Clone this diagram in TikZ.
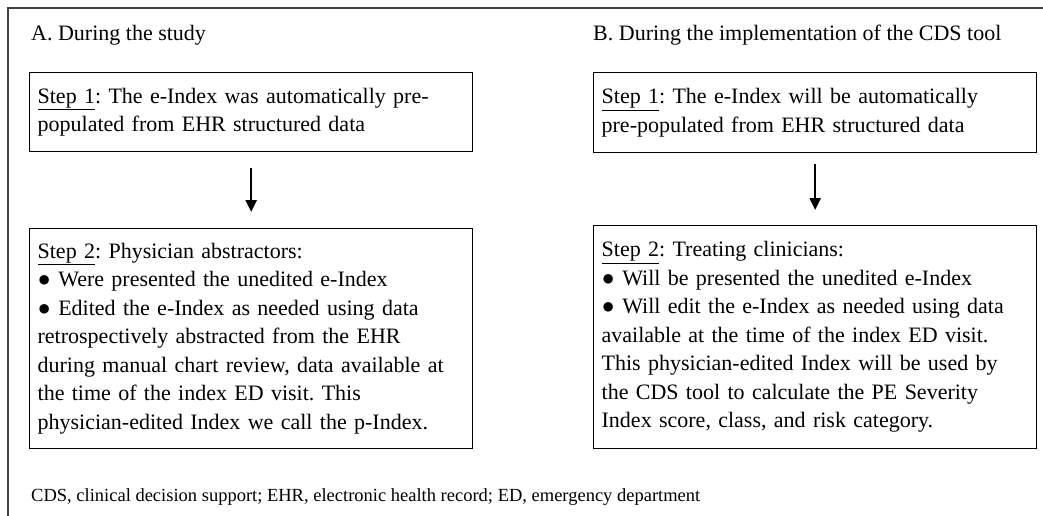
\documentclass[tikz,border=0pt]{standalone}
\usepackage{fontspec}
\setmainfont{Liberation Serif}
\usetikzlibrary{arrows.meta}
\begin{document}
\frenchspacing
\begin{tikzpicture}[x=1pt,y=-1pt,
    stepbox/.style={draw,line width=1.3pt,anchor=north west,align=left,
      text width=427pt,inner xsep=8pt,inner ysep=0pt,
      font=\fontsize{22}{28.5}\selectfont},
    caption/.style={anchor=west,inner sep=0pt,font=\fontsize{22}{27}\selectfont},
    flow/.style={-{Triangle[width=11pt,length=12pt]},line width=2.6pt}]
  \useasboundingbox (0,0) rectangle (1043,516);
  \draw[line width=1.3pt,draw=black!75] (1043,8) -- (8,8) -- (8,516);
  % A: during the study
  \node[caption] (atitle) at (31,35) {A. During the study};
  \node[stepbox,minimum height=79pt] (a1) at (29,72)
    {\underline{Step 1}: The e-Index was automatically pre-\\
     populated from EHR structured data};
  \node[stepbox,minimum height=220pt] (a2) at (29,228)
    {\underline{Step 2}: Physician abstractors:\\
     ● Were presented the unedited e-Index\\
     ● Edited the e-Index as needed using data\\
     retrospectively abstracted from the EHR\\
     during manual chart review, data available at\\
     the time of the index ED visit. This\\
     physician-edited Index we call the p-Index.};
  % B: during the implementation
  \node[caption] (btitle) at (593,35) {B. During the implementation of the CDS tool};
  \node[stepbox,minimum height=80pt] (b1) at (593,72)
    {\underline{Step 1}: The e-Index will be automatically\\
     pre-populated from EHR structured data};
  \node[stepbox,minimum height=223pt] (b2) at (593,225)
    {\underline{Step 2}: Treating clinicians:\\
     ● Will be presented the unedited e-Index\\
     ● Will edit the e-Index as needed using data\\
     available at the time of the index ED visit.\\
     This physician-edited Index will be used by\\
     the CDS tool to calculate the PE Severity\\
     Index score, class, and risk category.};
  \draw[flow,shorten <=16pt,shorten >=16pt] (a1) -- (a2);
  \draw[flow,shorten <=11pt,shorten >=15pt] (b1) -- (b2);
  \node[caption,font=\fontsize{18.5}{24}\selectfont] (note) at (31,497)
    {CDS, clinical decision support; EHR, electronic health record; ED, emergency department};
\end{tikzpicture}
\end{document}
